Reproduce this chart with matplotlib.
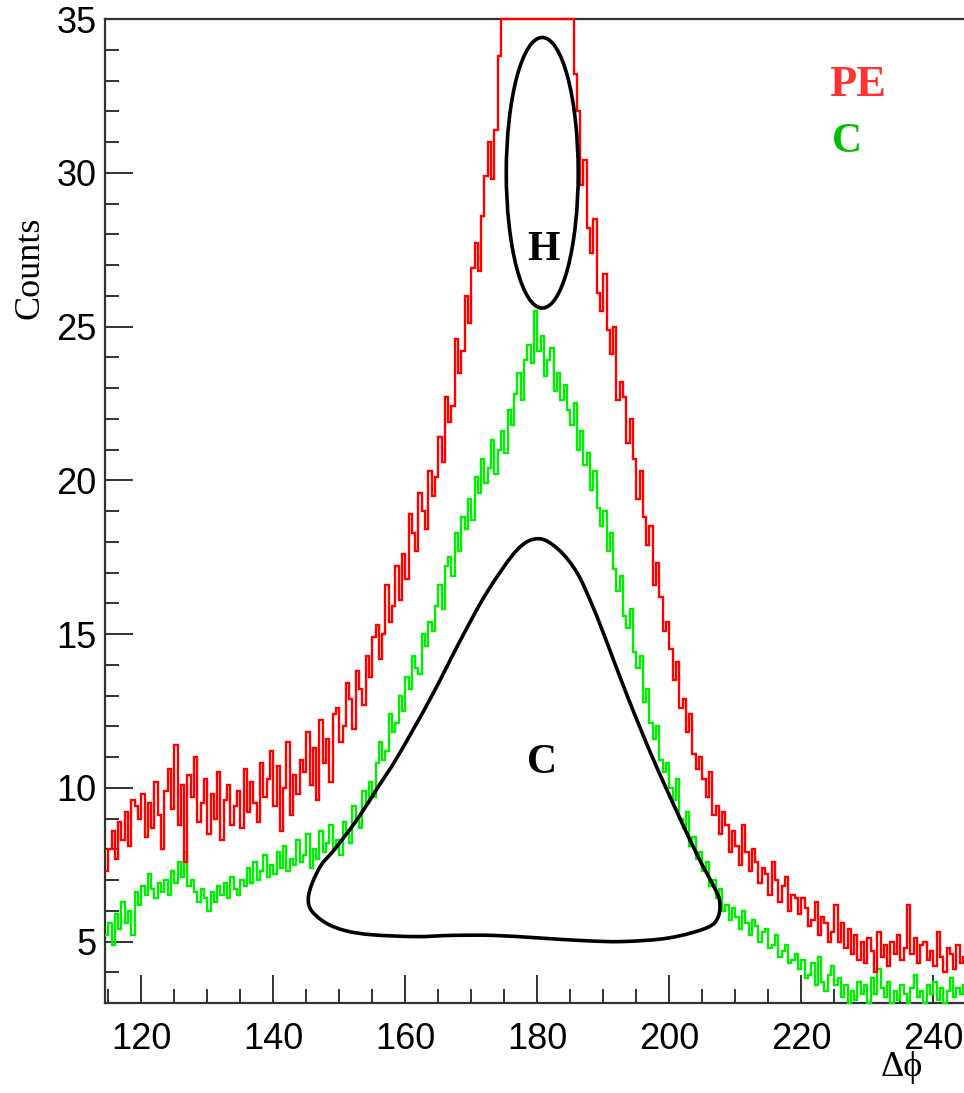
import matplotlib.pyplot as plt
import numpy as np
from matplotlib.patches import Ellipse, PathPatch
from matplotlib.path import Path
from matplotlib.ticker import MultipleLocator

plt.rcParams['font.family'] = ['Liberation Sans', 'DejaVu Sans']

# histogram binning (delta phi, degrees)
bin_start = 114.5
bin_width = 0.5

# counts per bin, PE (red)
pe_counts = [
    7.3, 8.0, 8.6, 7.7, 8.9, 8.3, 9.2, 8.1, 9.6, 9.4,
    9.0, 9.8, 8.4, 9.5, 8.7, 10.2, 9.1, 8.0, 9.9, 10.6,
    9.3, 11.4, 8.8, 10.1, 7.6, 10.4, 9.7, 11.0, 8.9, 9.5,
    10.3, 8.5, 9.8, 9.0, 10.5, 8.3, 9.6, 10.1, 8.8, 9.4,
    9.9, 8.7, 10.6, 9.2, 10.2, 9.5, 8.9, 10.8, 9.7, 10.3,
    11.2, 9.4, 10.7, 8.6, 10.0, 11.5, 9.1, 10.4, 9.8, 10.9,
    10.5, 11.8, 10.1, 11.3, 9.6, 12.2, 10.8, 11.6, 10.2, 12.4,
    12.6, 11.5, 12.0, 13.4, 12.9, 11.9, 13.8, 13.2, 12.7, 14.3,
    13.6, 14.9, 15.3, 14.2, 15.0, 16.6, 15.4, 15.9, 17.2, 16.1,
    17.6, 16.8, 18.9, 18.3, 17.7, 19.6, 19.0, 18.4, 20.3, 19.5,
    20.1, 21.4, 20.6, 22.7, 21.9, 22.4, 24.6, 23.5, 24.2, 26.0,
    25.1, 26.9, 27.7, 26.8, 28.6, 29.9, 31.0, 29.8, 31.4, 33.8,
    38, 39, 41, 40, 42, 43, 44, 45, 44, 46,
    45, 44, 46, 45, 43, 44, 42, 41, 40, 39,
    38, 37, 33.2, 32.0, 29.6, 30.4, 28.2, 27.4, 28.5, 26.1,
    25.5, 26.7, 24.9, 24.1, 25.0, 22.6, 23.2, 22.7, 21.2, 22.0,
    20.7, 19.4, 20.3, 18.8, 17.9, 18.5, 16.6, 17.3, 16.2, 15.1,
    15.4, 14.5, 13.5, 14.1, 12.6, 12.9, 11.8, 12.4, 11.1, 10.6,
    11.0, 10.3, 9.7, 10.5, 9.1, 9.4, 8.5, 9.2, 8.8, 7.9,
    8.6, 8.1, 7.5, 8.8, 7.9, 7.3, 8.0, 7.6, 6.9, 7.4,
    7.2, 6.5, 7.6, 7.0, 6.3, 6.8, 7.1, 6.0, 6.5, 6.4,
    5.9, 6.4, 6.1, 5.5, 5.7, 6.3, 5.2, 5.8, 5.6, 5.0,
    5.3, 6.2, 5.0, 5.6, 4.8, 5.4, 4.6, 5.2, 4.4, 5.0,
    4.3, 5.1, 4.7, 4.0, 5.3, 4.5, 4.9, 4.2, 5.0, 4.6,
    5.2, 4.4, 4.8, 6.2, 4.6, 5.1, 4.3, 4.9, 5.0, 4.4,
    4.7, 4.2, 5.3, 4.5, 4.0, 4.8, 4.6, 4.1, 4.9, 4.3,
    4.5,
]

# counts per bin, C (green)
c_counts = [
    5.2, 5.6, 4.9, 5.9, 5.4, 6.3, 5.6, 6.0, 5.2, 6.6,
    6.2, 6.8, 6.5, 7.2, 6.7, 6.4, 6.9, 6.6, 7.0, 6.5,
    7.3, 6.9, 7.6, 7.1, 7.9, 6.8, 7.0, 6.6, 6.3, 6.7,
    6.4, 6.0, 6.6, 6.3, 6.8, 6.5, 6.9, 6.4, 7.1, 6.7,
    6.5, 7.0, 6.8, 7.4, 6.9, 7.6, 7.0, 7.3, 7.8, 7.1,
    7.5, 7.2, 7.9, 7.4, 8.1, 7.3, 7.7, 7.5, 8.3, 7.6,
    7.8, 8.5, 7.4, 8.0, 7.7, 8.6, 7.9, 8.2, 8.8, 8.0,
    8.3, 7.8, 8.9, 8.5, 8.2, 9.4, 9.0, 8.7, 9.9, 9.5,
    10.2, 9.7, 10.8, 11.5, 10.9, 11.2, 12.4, 11.8, 12.1, 13.0,
    12.5, 13.6, 13.2, 14.3, 13.9, 13.7, 15.0, 14.6, 15.4, 15.1,
    15.9, 16.6, 15.8, 17.2, 17.5, 16.9, 18.3, 17.7, 18.8, 18.4,
    19.4, 18.7, 20.1, 19.6, 20.7, 19.9, 20.4, 21.3, 20.2, 21.0,
    21.6, 20.9, 22.3, 21.8, 22.8, 23.5, 22.6, 23.9, 24.4, 23.8,
    25.5, 24.2, 24.7, 23.4, 23.9, 24.3, 22.9, 23.5, 22.6, 23.1,
    22.3, 21.8, 22.5, 21.0, 21.6, 20.5, 20.9, 19.7, 20.3, 19.1,
    18.5, 19.0, 17.7, 18.3, 17.1, 16.4, 16.9, 15.6, 15.2, 15.8,
    14.4, 13.9, 14.3, 12.8, 13.2, 12.1, 11.6, 12.0, 10.9, 10.5,
    10.8, 10.0, 9.6, 10.3, 9.0, 8.7, 9.2, 8.1, 8.4, 7.7,
    7.9, 7.3, 7.6, 6.8, 7.0, 6.4, 6.7, 6.0, 6.2, 5.7,
    6.1, 5.8, 5.4, 6.0, 5.6, 5.2, 5.7, 5.5, 5.0, 5.3,
    5.4, 4.8, 4.9, 5.2, 4.5, 4.7, 4.9, 4.3, 4.4, 4.6,
    4.1, 4.4, 3.8, 3.9, 4.3, 3.6, 4.5, 3.7, 3.4, 3.9,
    4.2, 3.6, 3.8, 3.2, 3.6, 2.9, 3.4, 3.1, 3.7, 3.3,
    3.6, 3.0, 3.8, 3.3, 4.1, 3.5, 3.2, 3.7, 2.9, 3.4,
    3.1, 3.6, 3.3, 2.8, 3.5, 3.9, 3.2, 3.4, 3.0, 3.6,
    3.3, 3.7, 3.1, 3.5, 2.9, 3.4, 3.8, 3.2, 3.5, 3.3,
    3.6,
]

# hand-drawn outline around the C region (delta phi, counts)
blob_x = [180.2, 183.2, 186.0, 188.4, 190.6, 193.7, 197.5, 201.6, 204.5, 206.6,
          207.6, 207.4, 205.7, 200.0, 193.0, 186.9, 180.0, 173.3, 167.0, 161.7,
          155.0, 151.0, 148.0, 145.8, 145.3, 145.9, 147.3, 149.3, 152.8, 155.8,
          158.8, 163.8, 168.6, 172.5, 177.0]
blob_y = [18.1, 17.75, 17.0, 15.9, 14.7, 12.95, 10.96, 9.01, 7.7, 6.85,
          6.35, 5.8, 5.45, 5.12, 5.0, 5.03, 5.12, 5.2, 5.2, 5.16,
          5.22, 5.35, 5.6, 6.0, 6.4, 6.9, 7.5, 8.0, 9.0, 10.0,
          11.0, 12.9, 14.9, 16.4, 17.75]

fig = plt.figure(figsize=(9.64, 10.93), dpi=100)
ax = fig.add_axes([0.1089, 0.0823, 0.8911, 0.9003])

edges = bin_start + bin_width * np.arange(len(pe_counts) + 1)
ax.stairs(np.clip(c_counts, 3, 35), edges, baseline=None, color='#00ee00',
          lw=1.7, clip_on=False, zorder=3)
ax.stairs(np.clip(pe_counts, 3, 35), edges, baseline=None, color='#ff0000',
          lw=1.7, clip_on=False, zorder=4)

# H ellipse
ax.add_patch(Ellipse((180.75, 30.0), 10.9, 8.8, fill=False, ec='black', lw=2.6, zorder=5))

# smooth closed outline (catmull-rom as cubic bezier)
pts = np.column_stack([blob_x, blob_y])
n = len(pts)
verts = [pts[0]]
codes = [Path.MOVETO]
for i in range(n):
    p0, p1, p2, p3 = pts[i - 1], pts[i], pts[(i + 1) % n], pts[(i + 2) % n]
    verts += [p1 + (p2 - p0) / 6, p2 - (p3 - p1) / 6, p2]
    codes += [Path.CURVE4] * 3
ax.add_patch(PathPatch(Path(verts, codes), fill=False, ec='black', lw=2.6, zorder=5))

serif = ['Liberation Serif', 'DejaVu Serif']
ax.text(180.9, 27.5, 'H', fontsize=30, fontweight='bold', family=serif, ha='center', va='center', zorder=6)
ax.text(180.7, 10.8, 'C', fontsize=30, fontweight='bold', family=serif, ha='center', va='center', zorder=6)
ax.text(228.6, 32.85, 'PE', fontsize=32, fontweight='bold', family=serif, color='#ff3333', ha='center', va='center')
ax.text(226.9, 31.0, 'C', fontsize=30, fontweight='bold', family=serif, color='#00c000', ha='center', va='center')

ax.set_xlim(114.5, 244.65)
ax.set_ylim(3, 35)
ax.set_xticks(np.arange(120, 241, 20))
ax.set_yticks(np.arange(5, 36, 5))
ax.xaxis.set_minor_locator(MultipleLocator(5))
ax.yaxis.set_minor_locator(MultipleLocator(1))
ax.tick_params(which='both', direction='in', top=False, right=False, width=1.3, color='#222222')
ax.tick_params(which='major', length=20, labelsize=26)
ax.tick_params(which='minor', length=10)
ax.tick_params(axis='x', pad=14)
ax.tick_params(axis='y', pad=6)

ax.spines['right'].set_visible(False)
for s in ['left', 'bottom', 'top']:
    ax.spines[s].set_linewidth(1.6)
    ax.spines[s].set_color('#333333')

fig.text(0.031, 0.755, 'Counts', rotation=90, fontsize=26, family=serif, ha='center', va='center')
fig.text(0.935, 0.023, 'Δϕ', fontsize=26, family=serif, ha='center', va='center')

fig.savefig('out.png', dpi=100)
